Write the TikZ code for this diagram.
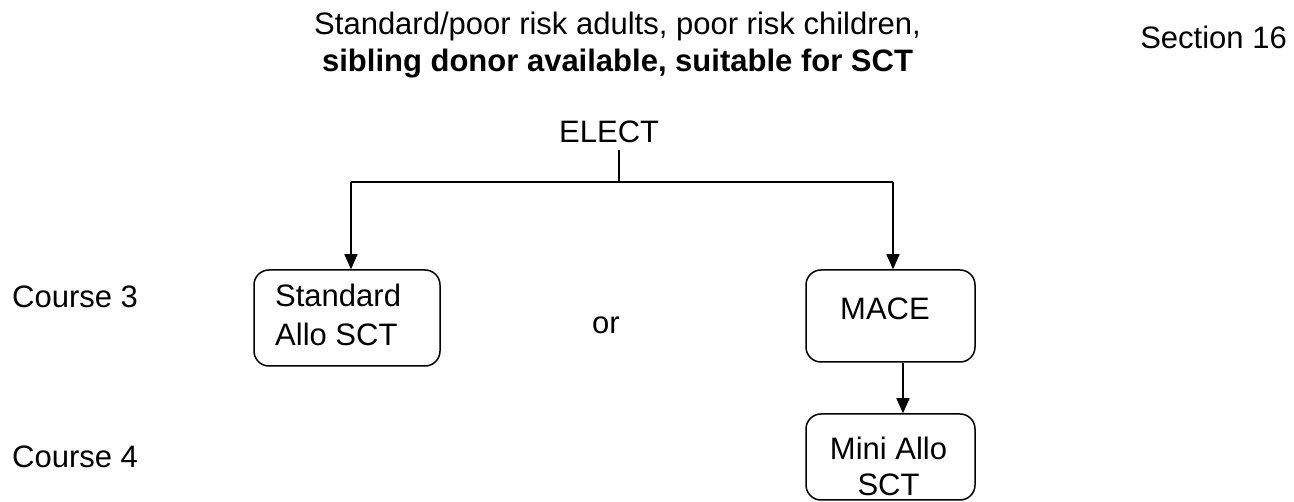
\documentclass[tikz,border=0pt]{standalone}
\usepackage{fontspec}
\setmainfont{Liberation Sans}
\usetikzlibrary{arrows.meta}
\begin{document}
\begin{tikzpicture}[x=1pt,y=-1pt,
  conn/.style={line width=1.5pt},
  arr/.style={conn,-{Triangle[length=15pt,width=13pt]}},
  box/.style={draw,line width=1.5pt,rounded corners=15pt,inner sep=0pt},
  txt/.style={inner sep=0pt,font=\fontsize{31}{37}\selectfont}]
\useasboundingbox (0,0) rectangle (1294,502);
\node[txt,anchor=base] (t1) at (617.5,35) {Standard/poor risk adults, poor risk children,};
\node[txt,font=\fontsize{31}{37}\selectfont\bfseries,anchor=base] (t2) at (617.5,72) {sibling donor available, suitable for SCT};
\node[txt,anchor=base east] (sec) at (1287,49) {Section 16};
\node[txt,anchor=base west] (elect) at (559,143) {ELECT};
\coordinate (jt) at (619,150);
\coordinate (jn) at (619,182);
\coordinate (jl) at (351,182);
\coordinate (jr) at (893,182);
\node[box,minimum width=186pt,minimum height=96pt] (std) at (347,318) {};
\node[txt,anchor=base west] (stdt1) at (275,307) {Standard};
\node[txt,anchor=base west] (stdt2) at (275,346) {Allo SCT};
\node[box,minimum width=169pt,minimum height=92pt] (mace) at (890.5,316) {};
\node[txt,anchor=base] (macet) at (885,320) {MACE};
\node[box,minimum width=169pt,minimum height=86pt] (mini) at (890.5,457) {};
\node[txt,anchor=base] (minit1) at (888.5,460) {Mini Allo};
\node[txt,anchor=base] (minit2) at (888.5,496) {SCT};
\node[txt,anchor=base] (or) at (606,334) {or};
\node[txt,anchor=base west] (c3) at (12,308) {Course 3};
\node[txt,anchor=base west] (c4) at (12,468) {Course 4};
\draw[conn] (jt) -- (jn);
\draw[conn] (jl) -- (jr);
\draw[arr] (jl) -- (std.north -| jl);
\draw[arr] (jr) -- (mace.north -| jr);
\draw[arr] (mace.south -| 903,0) -- (mini.north -| 903,0);
\end{tikzpicture}
\end{document}
